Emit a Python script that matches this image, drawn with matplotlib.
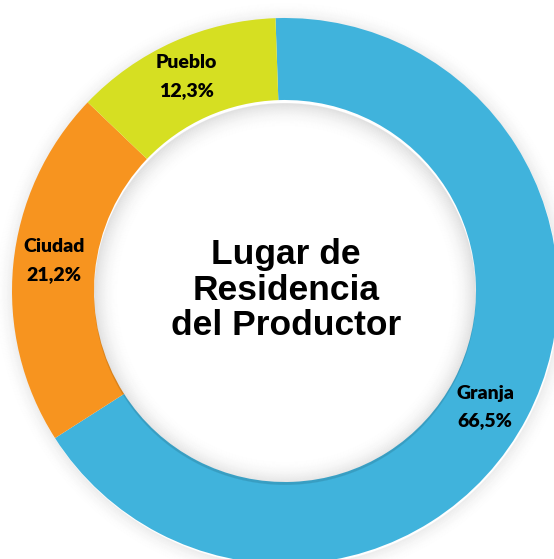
import matplotlib
matplotlib.use("Agg")
import matplotlib.pyplot as plt
from matplotlib.patches import Wedge

categories = ["Granja", "Ciudad", "Pueblo"]
values = [66.5, 21.2, 12.3]
value_labels = ["66,5%", "21,2%", "12,3%"]
colors = ["#40B3DC", "#F7941F", "#D6DF22"]
center_title = "Lugar de\nResidencia\ndel Productor"

W, H = 554, 559
fig = plt.figure(figsize=(W / 100, H / 100), dpi=100)
ax = fig.add_axes([0, 0, 1, 1])
ax.set_axis_off()

cx, cy = 285, H - 291
R_out, R_in = 273, 191

# outer soft shadow
for k in range(20):
    a = 0.06 * (1 - k / 20) ** 2
    ax.add_patch(Wedge((cx + 1, cy - 2), R_out + k + 1, 0, 360, width=1.2,
                       facecolor="black", edgecolor="none", alpha=a, zorder=0))

ax.pie(values, colors=colors, startangle=92, counterclock=False,
       center=(cx, cy), radius=R_out,
       wedgeprops=dict(width=R_out - R_in, edgecolor="none", zorder=1))

# inner shadow inside the hole
for k in range(26):
    a = 0.10 * (1 - k / 26) ** 2
    ax.add_patch(Wedge((cx, cy - 3), R_in - k, 0, 360, width=1.2,
                       facecolor="black", edgecolor="none", alpha=a, zorder=2))

label_pos = {"Granja": (485, 393, 421), "Ciudad": (54, 247, 275), "Pueblo": (186, 63, 91)}
for cat, vl in zip(categories, value_labels):
    x, y1, y2 = label_pos[cat]
    ax.text(x, H - y1, cat, ha="center", va="center", fontsize=14,
            fontweight="heavy", family="Lato", color="black", zorder=5)
    ax.text(x, H - y2, vl, ha="center", va="center", fontsize=14,
            fontweight="heavy", family="Lato", color="black", zorder=5)

ax.text(cx + 1, H - 290, center_title, ha="center", va="center", fontsize=25.5,
        fontweight="bold", family="Liberation Sans", linespacing=1.08,
        color="black", zorder=5)

ax.set_xlim(0, W)
ax.set_ylim(0, H)
ax.set_aspect("auto")
fig.savefig("out.png", dpi=100, facecolor="white")
